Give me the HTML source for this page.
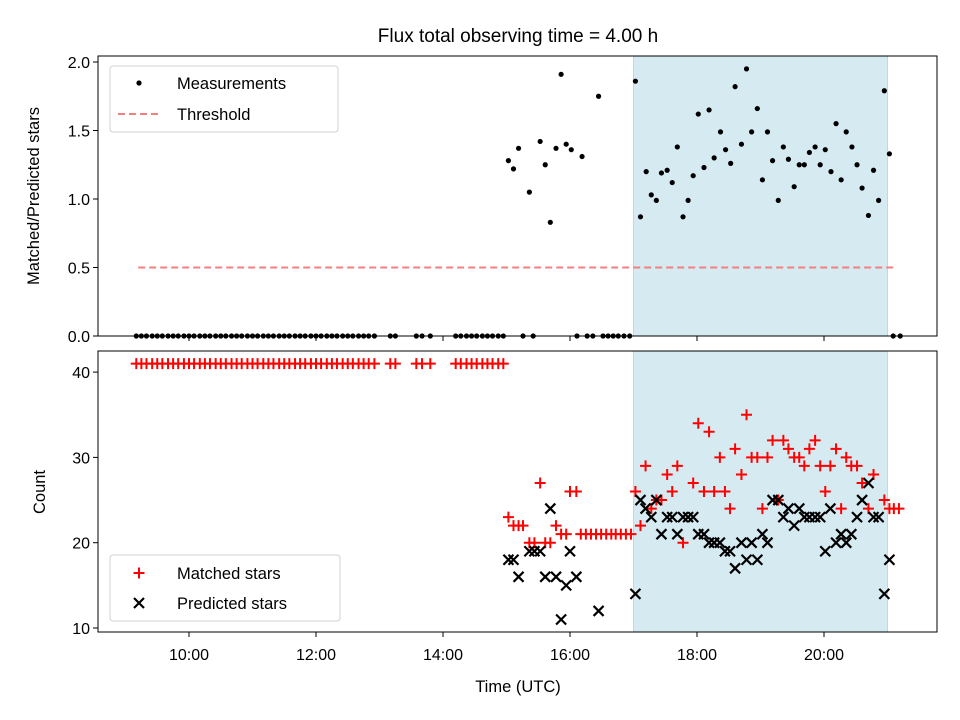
<!DOCTYPE html>
<html><head><meta charset="utf-8"><style>
html,body{margin:0;padding:0;background:#fff}
svg{display:block;font-family:"Liberation Sans","DejaVu Sans",sans-serif}
</style></head><body>
<svg id="fig" width="960" height="720" viewBox="0 0 960 720">
<rect x="0" y="0" width="960" height="720" fill="#fff"/>
<text x="518" y="42" font-size="19" text-anchor="middle">Flux total observing time = 4.00 h</text>
<g id="topPanel"></g>
<g id="botPanel"></g>
</svg>
<script>
// ---- data ----
const ratioTimes = [9.17,9.25,9.33,9.42,9.5,9.58,9.67,9.75,9.83,9.92,10,10.08,10.17,10.25,10.33,10.42,10.5,10.58,10.67,10.75,10.83,10.92,11,11.08,11.17,11.25,11.33,11.42,11.5,11.58,11.67,11.75,11.83,11.92,12,12.08,12.17,12.25,12.33,12.42,12.5,12.58,12.67,12.75,12.83,12.92,13.17,13.25,13.58,13.67,13.8,14.2,14.28,14.37,14.45,14.53,14.62,14.7,14.78,14.87,14.95,
15.03,15.11,15.19,15.26,15.36,15.42,15.53,15.61,15.69,15.78,15.86,15.94,16.02,16.11,16.19,16.27,16.36,16.45,16.52,16.6,16.68,16.76,16.85,16.94,
17.03,17.11,17.2,17.28,17.36,17.44,17.53,17.61,17.69,17.78,17.86,17.94,18.02,18.11,18.19,18.27,18.37,18.45,18.53,18.6,18.7,18.78,18.86,18.95,19.03,19.11,19.19,19.28,19.36,19.44,19.53,19.61,19.69,19.77,19.86,19.94,20.02,20.11,20.19,20.27,20.35,20.44,20.52,20.6,20.7,20.78,20.86,20.95,21.03,21.09,21.2];
const ratioValues = [0,0,0,0,0,0,0,0,0,0,0,0,0,0,0,0,0,0,0,0,0,0,0,0,0,0,0,0,0,0,0,0,0,0,0,0,0,0,0,0,0,0,0,0,0,0,0,0,0,0,0,0,0,0,0,0,0,0,0,0,0,
1.28,1.22,1.37,0,1.05,0,1.42,1.25,0.83,1.37,1.91,1.40,1.36,0,1.31,0,0,1.75,0,0,0,0,0,0,
1.86,0.87,1.20,1.03,0.99,1.19,1.21,1.12,1.38,0.87,0.99,1.17,1.62,1.23,1.65,1.30,1.49,1.36,1.26,1.82,1.40,1.95,1.49,1.66,1.14,1.49,1.28,0.99,1.38,1.29,1.09,1.25,1.25,1.34,1.38,1.25,1.36,1.20,1.55,1.14,1.49,1.38,1.25,1.08,0.88,1.21,0.99,1.79,1.33,0,0];
const thresholdValue = 0.5;
const thresholdRange = [9.2, 21.12];
const highlightRange = [17.0, 21.0];

const matchedTimes = [9.17,9.25,9.33,9.42,9.5,9.58,9.67,9.75,9.83,9.92,10,10.08,10.17,10.25,10.33,10.42,10.5,10.58,10.67,10.75,10.83,10.92,11,11.08,11.17,11.25,11.33,11.42,11.5,11.58,11.67,11.75,11.83,11.92,12,12.08,12.17,12.25,12.33,12.42,12.5,12.58,12.67,12.75,12.83,12.92,13.17,13.25,13.58,13.67,13.8,14.2,14.28,14.37,14.45,14.53,14.62,14.7,14.78,14.87,14.95,
15.03,15.11,15.19,15.26,15.36,15.44,15.53,15.61,15.69,15.78,15.86,15.94,16.0,16.1,16.17,16.25,16.33,16.41,16.49,16.57,16.65,16.72,16.8,16.88,16.96,
17.03,17.11,17.19,17.28,17.36,17.44,17.53,17.61,17.69,17.78,17.94,18.02,18.11,18.19,18.27,18.36,18.44,18.52,18.6,18.7,18.78,18.86,18.95,19.03,19.11,19.19,19.28,19.36,19.44,19.53,19.61,19.69,19.77,19.86,19.94,20.02,20.1,20.19,20.27,20.35,20.43,20.52,20.6,20.7,20.78,20.95,21.03,21.1,21.18];
const matchedValues = [41,41,41,41,41,41,41,41,41,41,41,41,41,41,41,41,41,41,41,41,41,41,41,41,41,41,41,41,41,41,41,41,41,41,41,41,41,41,41,41,41,41,41,41,41,41,41,41,41,41,41,41,41,41,41,41,41,41,41,41,41,
23,22,22,22,20,20,27,20,20,22,21,21,26,26,21,21,21,21,21,21,21,21,21,21,21,
26,22,29,24,25,25,28,26,29,20,27,34,26,33,26,30,26,24,31,28,35,30,30,24,30,32,25,32,31,30,30,29,31,32,29,26,29,31,24,30,29,29,27,24,28,25,24,24,24];

const predictedTimes = [15.03,15.11,15.19,15.36,15.44,15.53,15.61,15.69,15.78,15.86,15.94,16.0,16.1,16.45,
17.03,17.11,17.19,17.28,17.36,17.44,17.53,17.61,17.69,17.78,17.86,17.94,18.02,18.11,18.19,18.27,18.36,18.44,18.52,18.6,18.7,18.78,18.86,18.95,19.03,19.11,19.19,19.28,19.36,19.44,19.53,19.61,19.69,19.77,19.86,19.94,20.02,20.1,20.19,20.27,20.35,20.43,20.52,20.6,20.7,20.78,20.86,20.95,21.03];
const predictedValues = [18,18,16,19,19,19,16,24,16,11,15,19,16,12,
14,25,24,23,25,21,23,23,21,23,23,23,21,21,20,20,20,19,19,17,20,18,20,18,21,20,25,25,23,24,22,24,23,23,23,23,19,24,20,21,20,21,23,25,27,23,23,14,18];

const xTickHours = [10,12,14,16,18,20];
const xTickLabels = ["10:00","12:00","14:00","16:00","18:00","20:00"];
const topTicks = [0,0.5,1.0,1.5,2.0];
const topTickLabels = ["0.0","0.5","1.0","1.5","2.0"];
const botTicks = [10,20,30,40];
const botTickLabels = ["10","20","30","40"];

// ---- axes ----
const L=98,R=937, T1=56,B1=336, T2=351,B2=632;
const X = h => 189 + (h-10)*63.5;
const Y1 = v => 336 - v*137;
const Y2 = v => 628 - (v-10)*8.53;
const NS="http://www.w3.org/2000/svg";
function mk(parent,tag,attrs){const e=document.createElementNS(NS,tag);for(const k in attrs)e.setAttribute(k,attrs[k]);parent.appendChild(e);return e;}

function panel(g,T,B,yfun,ticks,labels,showX,prefix){
  const sh=mk(g,'rect',{x:X(highlightRange[0]),y:T,width:X(highlightRange[1])-X(highlightRange[0]),height:B-T,fill:'#d5eaf1',stroke:'#b9dbe6','stroke-width':1});
  
  
  xTickHours.forEach((h,i)=>{
    const t=mk(g,'line',{x1:X(h),x2:X(h),y1:B,y2:B+5,stroke:'#000','stroke-width':1});
    
    
    if(showX){const tx=mk(g,'text',{x:X(h),y:B+28,'font-size':16,'text-anchor':'middle'});tx.textContent=xTickLabels[i];
      
      }
  });
  ticks.forEach((v,i)=>{
    const t=mk(g,'line',{x1:L-5,x2:L,y1:yfun(v),y2:yfun(v),stroke:'#000','stroke-width':1});
    
    
    const tx=mk(g,'text',{x:L-8,y:yfun(v)+6,'font-size':16,'text-anchor':'end'});tx.textContent=labels[i];
    
    
  });
}
const topG=document.getElementById('topPanel'), botG=document.getElementById('botPanel');
panel(topG,T1,B1,Y1,topTicks,topTickLabels,false,'top');
panel(botG,T2,B2,Y2,botTicks,botTickLabels,true,'bottom');

// threshold
const th=mk(topG,'line',{x1:X(thresholdRange[0]),x2:X(thresholdRange[1]),y1:Y1(thresholdValue),y2:Y1(thresholdValue),stroke:'#f28080','stroke-width':2,'stroke-dasharray':'7,4'});


// measurements
ratioTimes.forEach((t,i)=>{
  const c=mk(topG,'circle',{cx:X(t),cy:Y1(ratioValues[i]),r:2.6,fill:'#000'});
  
  
});
// matched
matchedTimes.forEach((t,i)=>{
  const x=X(t),y=Y2(matchedValues[i]);
  const p=mk(botG,'path',{d:`M${x-5.5},${y}H${x+5.5}M${x},${y-5.5}V${y+5.5}`,stroke:'#ff0000','stroke-width':2,fill:'none'});
  
  
});
// predicted
predictedTimes.forEach((t,i)=>{
  const x=X(t),y=Y2(predictedValues[i]);
  const p=mk(botG,'path',{d:`M${x-5},${y-5}L${x+5},${y+5}M${x-5},${y+5}L${x+5},${y-5}`,stroke:'#000','stroke-width':2.2,fill:'none'});
  
  
});
// frames
[[topG,T1,B1,'top'],[botG,T2,B2,'bottom']].forEach(([g,T,B,p])=>{
  const f=mk(g,'rect',{x:L,y:T,width:R-L,height:B-T,fill:'none',stroke:'#000','stroke-width':1});
  
  
});
</script>
<svg style="position:absolute;left:0;top:0" width="960" height="720">
<g font-family="Liberation Sans, DejaVu Sans, sans-serif" font-size="16.5">
<text transform="translate(39,196) rotate(-90)" text-anchor="middle">Matched/Predicted stars</text>
<text transform="translate(45,492) rotate(-90)" text-anchor="middle">Count</text>
<text x="518" y="692" text-anchor="middle">Time (UTC)</text>
<g>
<rect x="110" y="66" width="228" height="66" rx="3" fill="#fff" fill-opacity="0.8" stroke="#d0d0d0"/>
<circle cx="139" cy="83" r="2.6" fill="#000"/>
<text x="177" y="89">Measurements</text>
<line x1="118" x2="160" y1="114" y2="114" stroke="#f28080" stroke-width="2" stroke-dasharray="7,4"/>
<text x="177" y="120">Threshold</text>
</g>
<g>
<rect x="110" y="555" width="230" height="66" rx="3" fill="#fff" fill-opacity="0.8" stroke="#d0d0d0"/>
<path d="M133.5,573H144.5M139,567.5V578.5" stroke="#ff0000" stroke-width="2"/>
<text x="177" y="579">Matched stars</text>
<path d="M134,598L144,608M134,608L144,598" stroke="#000" stroke-width="2.2"/>
<text x="177" y="609">Predicted stars</text>
</g>
</g>
</svg>
</body></html>
